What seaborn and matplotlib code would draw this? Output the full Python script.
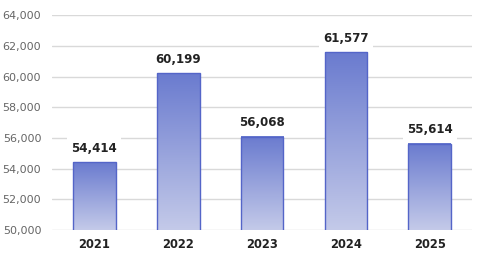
import numpy as np
import pandas as pd
import matplotlib
matplotlib.use("Agg")
import matplotlib.pyplot as plt
import seaborn as sns
from matplotlib.colors import LinearSegmentedColormap

years = ["2021", "2022", "2023", "2024", "2025"]
values = [54414, 60199, 56068, 61577, 55614]
y_ticks = [50000, 52000, 54000, 56000, 58000, 60000, 62000, 64000]

sns.set_theme(style="white")
plt.rcParams['font.family'] = ['DejaVu Sans']

df = pd.DataFrame({"year": years, "value": values})

fig = plt.figure(figsize=(4.8, 2.56), dpi=100)
ax = fig.add_axes([0.109, 0.1016, 0.874, 0.8394])

sns.barplot(data=df, x="year", y="value", ax=ax, width=0.51,
            color="#7080d0", saturation=1, zorder=2)

y_min, y_max = 50000, 64000
ax.set_ylim(y_min, y_max)
ax.set_yticks(y_ticks)
ax.set_yticklabels([f"{t:,}" for t in y_ticks])
ax.yaxis.grid(True, color="#d9d9d9", linewidth=1)
ax.set_axisbelow(True)
for s in ax.spines.values():
    s.set_visible(False)
ax.set_xlabel("")
ax.set_ylabel("")
ax.tick_params(axis="y", length=0, labelsize=8, labelcolor="#666666", pad=8)
ax.tick_params(axis="x", length=0, labelsize=8.3, labelcolor="#222222", pad=6)
for lbl in ax.get_xticklabels():
    lbl.set_fontweight("bold")

cmap = LinearSegmentedColormap.from_list("g", ["#c4cae9", "#6a7bcf"])
grad = np.linspace(0, 1, 256).reshape(-1, 1)
for p in list(ax.patches):
    x0, w = p.get_x(), p.get_width()
    top = p.get_y() + p.get_height()
    ax.imshow(grad, cmap=cmap, aspect="auto", origin="lower",
              extent=[x0, x0 + w, y_min, top], zorder=2.1,
              interpolation="bilinear")
    p.set_facecolor("none")
    p.set_edgecolor("#5465c8")
    p.set_linewidth(1.0)
    p.set_zorder(2.2)
    ax.annotate(f"{int(round(top)):,}", (x0 + w / 2, top),
                xytext=(0, 5.5), textcoords="offset points",
                ha="center", va="bottom", fontsize=8.5, fontweight="bold",
                color="#222222", zorder=3,
                bbox=dict(boxstyle="square,pad=0.35", fc="white", ec="none"))

ax.set_xlim(-0.5, len(years) - 0.5)
ax.set_ylim(y_min, y_max)
fig.savefig("out.png", dpi=100)
